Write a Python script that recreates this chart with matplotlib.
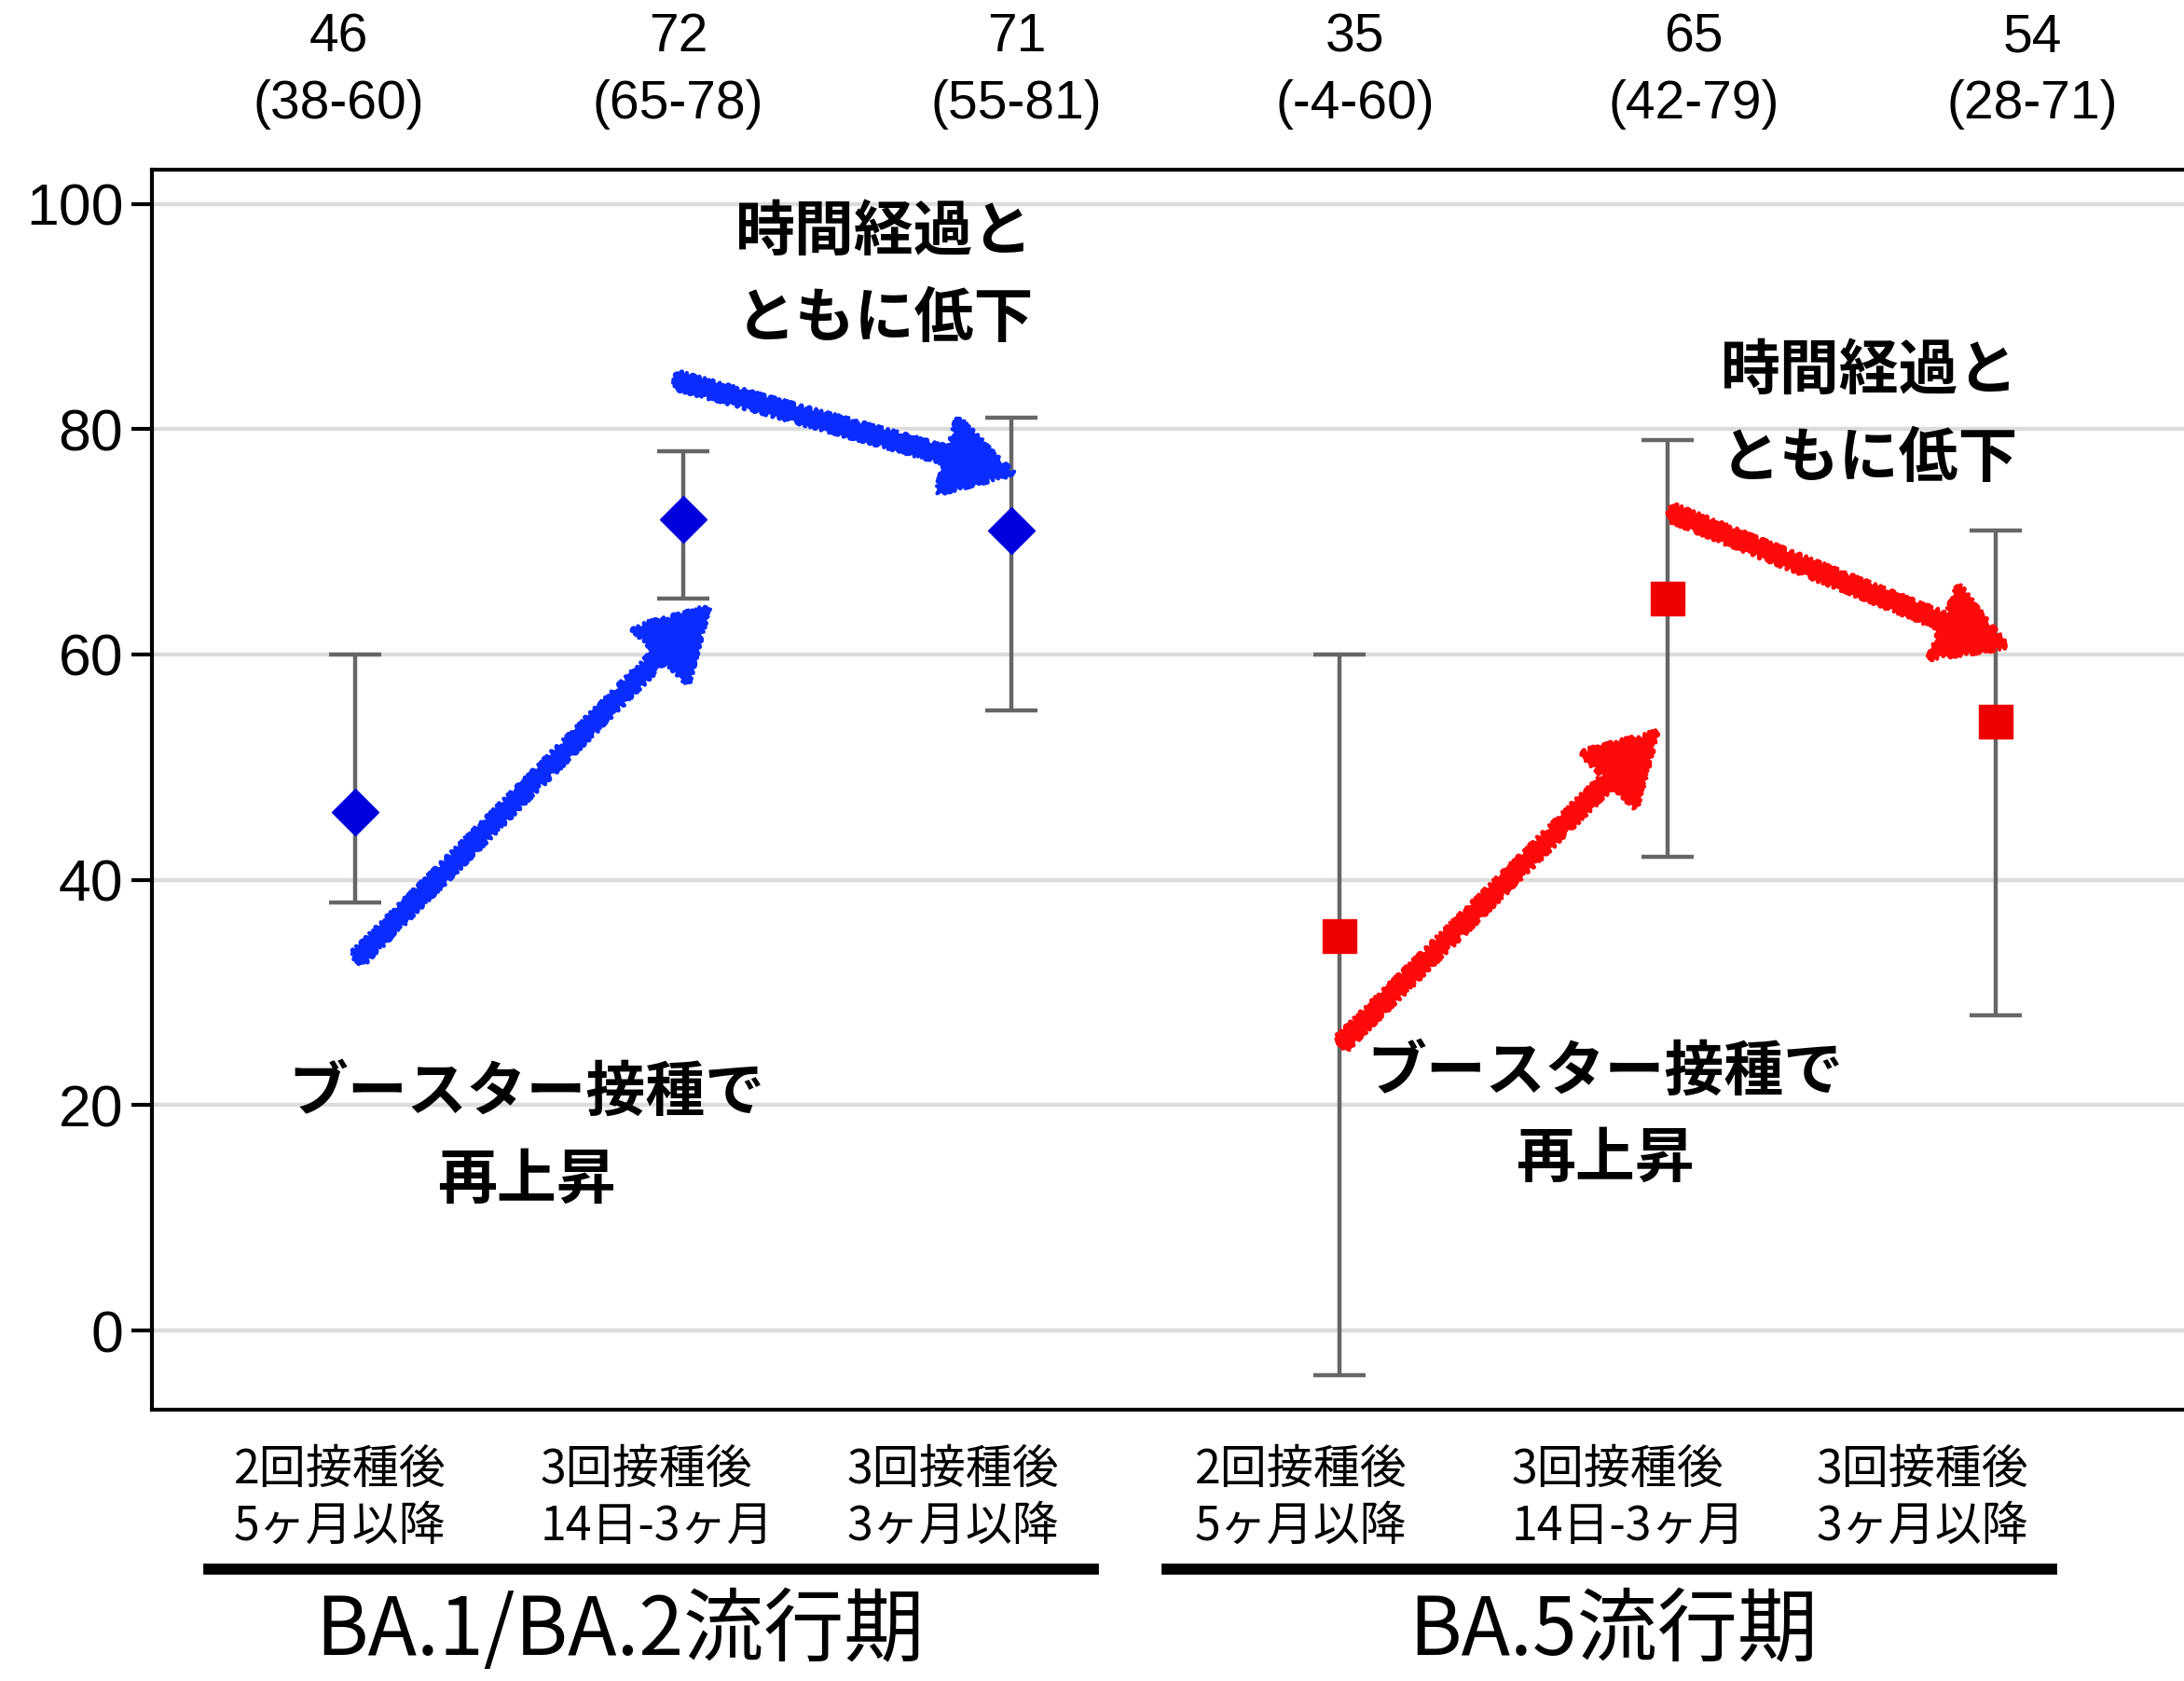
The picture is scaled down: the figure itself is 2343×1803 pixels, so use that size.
import numpy as np
import matplotlib
matplotlib.use('Agg')
import matplotlib.pyplot as plt
from matplotlib.patches import FancyArrowPatch

plt.rcParams['font.family'] = ['Noto Sans CJK JP', 'DejaVu Sans']

# data
est = np.array([46, 72, 71, 35, 65, 54])
lo = np.array([38, 65, 55, -4, 42, 28])
hi = np.array([60, 78, 81, 60, 79, 71])
xpos = np.arange(1, 7)
cat_labels = ['2回接種後\n5ヶ月以降', '3回接種後\n14日-3ヶ月', '3回接種後\n3ヶ月以降',
              '2回接種後\n5ヶ月以降', '3回接種後\n14日-3ヶ月', '3回接種後\n3ヶ月以降']
group_labels = ['BA.1/BA.2流行期', 'BA.5流行期']
yticks = [0, 20, 40, 60, 80, 100]

# annotation arrows (data coords): start, end
arrows_blue = [((1.0, 32.8), (2.08, 64.3)), ((1.97, 84.4), (3.01, 76.0))]
arrows_red = [((4.0, 25.3), (4.97, 53.2)), ((5.0, 72.7), (6.04, 60.6))]

W, H = 1568.0, 1207.0   # layout measured on shrunk reference

fig = plt.figure(figsize=(23.43, 18.03), dpi=100)
ax = fig.add_axes([109 / W, 1 - 1012 / H, (1576 - 109) / W, (1012 - 122) / H])

ax.set_xlim(0.38, 6.607)
ax.set_ylim(-7.0, 103.0)

ax.set_yticks(yticks)
ax.set_yticklabels([str(t) for t in yticks], fontfamily='Liberation Sans', fontsize=45)
ax.set_xticks([])
ax.tick_params(axis='y', direction='out', length=16, width=3, pad=6)
for s in ['left', 'top', 'bottom']:
    ax.spines[s].set_linewidth(3)
ax.spines['right'].set_visible(False)
ax.yaxis.grid(True, color='#dcdcdc', linewidth=3.2, zorder=0)
ax.set_axisbelow(True)

ax.errorbar(xpos, est, yerr=[est - lo, hi - est], fmt='none', ecolor='#666666',
            elinewidth=3.2, capsize=20, capthick=3.2, zorder=2)
ax.plot(xpos[:3], est[:3], 'D', color='#0000dd', markersize=25, zorder=3)
ax.plot(xpos[3:], est[3:], 's', color='#ee0000', markersize=26, zorder=3)

for arrs, c in [(arrows_blue, '#0a2cff'), (arrows_red, '#ff0a0a')]:
    for a, b in arrs:
        p = FancyArrowPatch(a, b, arrowstyle='simple,head_length=52,head_width=60,tail_width=11',
                            mutation_scale=1, color=c, lw=3, zorder=4)
        p.set_sketch_params(3, 5, 6)
        ax.add_patch(p)

# top estimate labels
top_x = [243, 487, 730, 973, 1216, 1459]
for i in range(6):
    fig.text(top_x[i] / W, 1 - 51 / H, '%d\n(%d-%d)' % (est[i], lo[i], hi[i]),
             ha='center', va='center', fontfamily='Liberation Sans', fontsize=41,
             linespacing=1.42)

# category labels below
cat_x = [168, 388, 608, 858, 1085, 1304]
for i in range(6):
    fig.text(cat_x[i] / W, 1 - 1076 / H, cat_labels[i], ha='left', va='center',
             fontsize=36, linespacing=1.2)

# group bars and labels
for x0, x1 in [(150, 785), (838, 1473)]:
    fig.add_artist(plt.Line2D([x0 / W, x1 / W], [1 - 1127 / H] * 2, color='black',
                              linewidth=8.5, transform=fig.transFigure))
fig.text(445 / W, 1 - 1172 / H, group_labels[0], ha='center', va='center', fontsize=62)
fig.text(1158 / W, 1 - 1172 / H, group_labels[1], ha='center', va='center', fontsize=62)

# annotations
notes = [(635, 198, '時間経過と\nともに低下'), (1342, 298, '時間経過と\nともに低下'),
         (378, 816, 'ブースター接種で\n再上昇'), (1152, 801, 'ブースター接種で\n再上昇')]
for nx, ny, txt in notes:
    fig.text(nx / W, 1 - ny / H, txt, ha='center', va='center',
             fontsize=46, fontweight='bold', linespacing=1.55)

fig.savefig('out.png', dpi=100)
